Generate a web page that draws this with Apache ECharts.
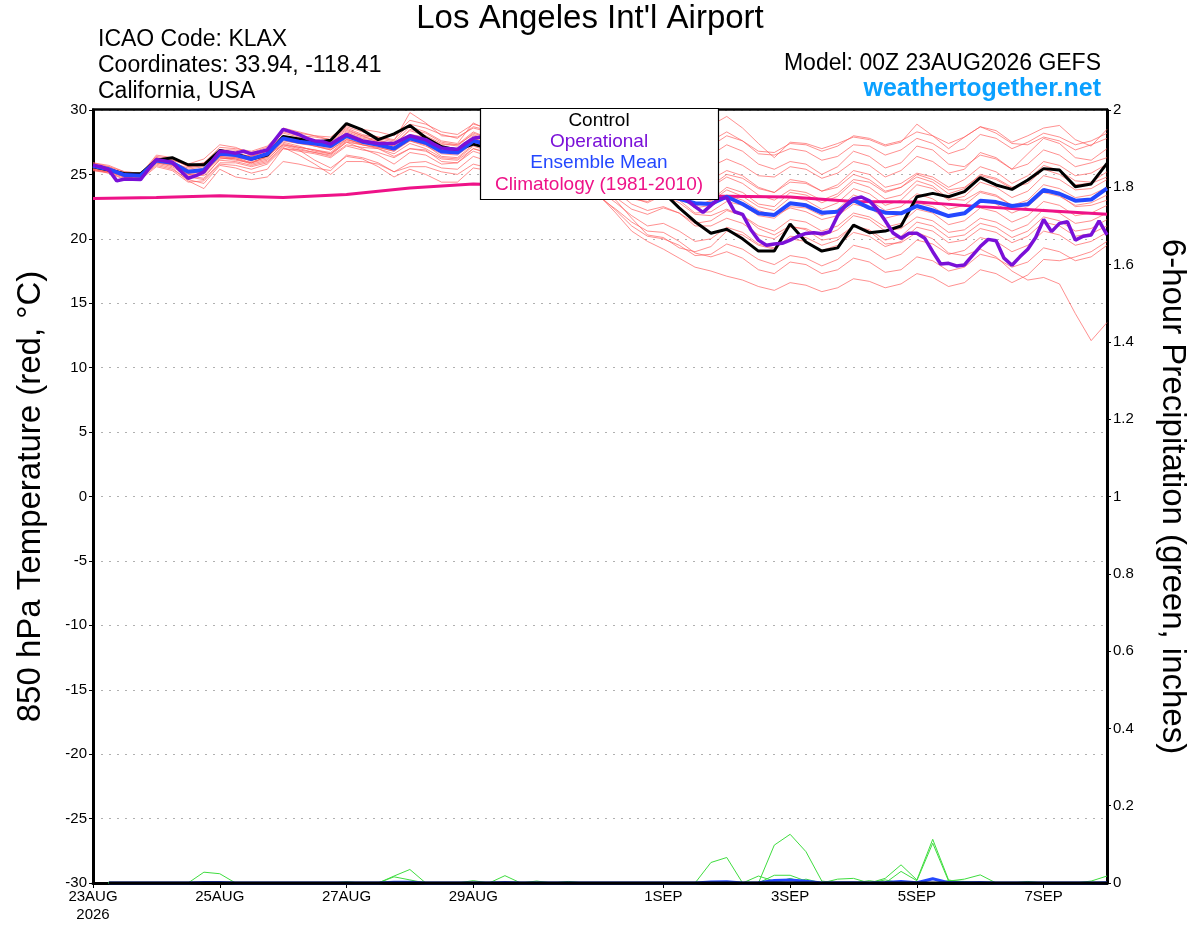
<!DOCTYPE html>
<html><head><meta charset="utf-8">
<script src="https://cdn.jsdelivr.net/npm/echarts@6/dist/echarts.min.js"></script>
<style>html,body{margin:0;padding:0;background:#fff}#c{width:1200px;height:927px}</style>
</head><body><div id="c"></div>
<script>
// ---- tick labels (x axis positions are 3-hour steps from 23AUG2026 00Z) ----
const tickIndex = [0, 16, 32, 48, 72, 88, 104, 120];
const tickLabels = ['23AUG\n2026', '25AUG', '27AUG', '29AUG', '1SEP', '3SEP', '5SEP', '7SEP'];
const nSteps3h = 129;

// ---- 850 hPa temperature (degC), 6-hourly, 65 points ----
const controlTemp = [25.6,25.35,25.05,25.05,26.1,26.3,25.75,25.75,26.85,26.6,26.2,26.5,27.95,27.75,27.5,27.65,28.95,28.45,27.7,28.15,28.8,27.85,27.15,26.9,27.35,
  27.0,26.7,26.4,26.1,25.8,25.5,25.2,24.9,24.6,24.3,24.0,23.6,22.4,21.33,20.43,20.74,20.0,19.05,19.05,21.15,19.75,19.05,19.3,21.07,20.48,20.6,21.0,23.27,23.53,23.27,23.66,24.75,24.18,23.84,24.57,25.45,25.34,24.05,24.26,25.86];
const meanTemp = [25.65,25.4,24.95,24.9,26.07,25.9,25.2,25.35,26.6,26.5,26.2,26.6,27.8,27.54,27.4,27.2,28.0,27.54,27.3,27.0,27.8,27.46,26.77,26.7,27.6,
  27.3,27.0,26.6,26.2,25.9,25.6,25.2,24.8,24.5,24.1,23.8,23.4,23.1,22.76,22.7,23.27,22.7,21.98,21.85,22.76,22.6,22.03,22.1,23.0,22.4,22.03,21.98,22.55,22.2,21.77,21.98,22.96,22.85,22.55,22.68,23.8,23.5,22.96,23.05,23.92];
// operational run, 3-hourly, 129 points
const opTemp = [25.72,25.6,25.35,24.5,24.65,24.62,24.6,25.4,26.15,26.05,25.95,25.3,24.7,24.9,25.2,26.0,26.8,26.75,26.65,26.8,26.6,26.75,26.9,27.7,28.5,
  28.3,28.1,27.8,27.6,27.55,27.35,27.75,28.1,27.85,27.6,27.5,27.4,27.4,27.4,27.7,28.0,27.85,27.7,27.35,27.05,27.0,26.95,27.4,27.8,
  27.9,27.7,27.5,27.3,27.0,26.8,26.6,26.5,26.3,26.1,25.9,25.8,25.6,25.4,25.3,25.1,25.0,24.8,24.7,24.5,24.3,24.1,23.9,23.8,23.6,
  23.3,23.0,22.5,22.05,22.6,23.1,23.2,22.1,21.9,20.75,19.9,19.5,19.6,19.65,19.9,20.2,20.42,20.48,20.4,20.55,21.8,22.6,23.1,23.25,22.95,22.3,
  21.4,20.45,20.04,20.43,20.43,20.04,19.0,18.05,18.1,17.9,17.97,18.7,19.4,19.96,19.85,18.5,17.95,18.6,19.2,20.1,21.5,20.56,21.2,21.33,19.9,20.2,20.3,21.4,20.3];
// climatology 1981-2010, daily at 00Z, 17 points
const climoTemp = [23.14,23.2,23.35,23.2,23.45,23.95,24.25,24.1,23.7,23.3,23.3,23.25,22.9,22.85,22.5,22.2,21.9];

// ensemble members, 6-hourly, 65 points each
const member01 = [25.8,25.5,25.1,25.0,26.4,26.2,25.6,25.9,27.1,27.0,26.8,27.2,28.4,28.2,28.0,27.9,28.8,28.5,28.3,28.0,29.2,28.9,28.3,28.1,28.9,28.6,28.0,27.9,28.5,28.3,27.6,27.5,28.2,28.0,27.4,27.6,28.4,28.6,28.2,28.8,29.5,28.6,27.4,26.3,27.5,27.4,27.0,27.4,27.9,27.7,27.2,27.5,28.9,28.0,27.0,27.9,28.7,28.4,27.5,28.0,28.6,28.8,27.7,27.2,28.5];
const member02 = [25.7,25.6,25.2,25.1,26.3,26.1,25.8,26.2,27.3,27.1,26.6,26.9,28.0,27.8,27.6,27.5,28.4,28.0,27.9,27.6,29.8,29.0,28.0,27.9,28.6,28.3,27.6,27.4,28.0,27.8,27.1,26.9,27.5,27.2,26.5,26.7,27.3,27.4,27.0,27.6,28.3,27.6,26.6,26.5,27.0,26.8,26.1,26.4,27.3,27.2,26.5,26.9,27.8,27.4,26.6,27.0,28.1,27.8,27.0,27.5,28.2,27.9,27.3,27.6,28.2];
const member03 = [25.5,25.3,24.9,24.8,26.0,25.8,24.9,24.7,26.2,26.3,25.9,26.4,27.8,27.6,27.5,27.3,28.2,27.8,27.6,27.4,28.4,28.0,27.4,27.2,28.2,27.8,27.2,27.0,27.6,27.3,26.6,26.4,27.0,26.7,26.0,26.2,26.8,26.6,25.9,26.5,27.3,26.8,25.8,25.4,26.0,25.8,25.0,25.6,26.8,26.4,25.5,25.9,27.2,26.9,25.8,25.6,26.5,26.2,25.4,26.6,27.8,27.4,26.3,26.1,27.0];
const member04 = [25.9,25.6,25.0,24.9,26.1,25.7,25.0,25.0,26.5,26.6,26.4,26.9,28.6,28.3,28.0,27.7,28.6,28.1,27.8,27.5,28.7,28.3,27.6,27.4,29.0,28.4,27.6,27.2,27.8,27.4,26.5,26.0,26.6,26.2,25.3,25.5,26.2,25.8,25.1,25.6,26.2,25.7,24.9,24.8,25.6,25.4,24.7,25.1,26.0,25.7,24.8,25.3,26.4,26.0,25.1,25.4,26.7,26.3,25.4,25.8,26.9,26.5,25.6,25.9,26.3];
const member05 = [25.4,25.2,24.8,24.7,25.9,25.8,25.2,25.5,26.8,26.5,26.0,26.3,27.5,27.2,26.8,26.6,27.6,27.3,27.1,26.8,27.8,27.5,26.9,26.8,27.8,27.4,26.9,26.6,27.2,26.8,26.0,25.8,26.4,26.0,25.1,25.0,25.6,25.2,24.4,24.6,25.3,24.9,24.0,23.6,24.4,24.3,23.7,24.2,25.3,25.0,24.0,24.3,25.1,24.8,24.0,24.6,25.6,25.2,24.3,24.9,26.0,25.7,24.9,25.1,25.8];
const member06 = [25.6,25.4,25.0,24.9,26.2,26.0,25.4,25.6,26.7,26.8,26.7,27.1,28.2,27.9,27.7,27.6,28.5,28.0,27.5,27.2,28.0,27.8,27.1,27.0,28.0,27.6,27.0,26.8,27.3,26.9,26.1,25.7,26.1,25.6,24.8,24.5,25.0,24.7,23.9,24.0,24.8,24.3,23.4,23.0,23.8,23.6,23.0,23.5,24.6,24.4,23.6,24.0,25.0,24.6,23.8,24.0,24.9,24.6,23.9,24.6,25.7,25.3,24.5,24.4,25.2];
const member07 = [25.3,25.1,24.7,24.7,25.7,25.4,24.6,24.3,25.7,25.5,25.1,25.4,27.0,26.8,26.6,26.3,27.2,26.9,26.7,26.3,27.0,26.8,26.2,26.1,27.0,26.7,26.0,25.7,26.3,25.9,25.0,24.6,25.0,24.5,23.6,23.3,24.0,23.5,22.6,22.9,23.8,23.3,22.5,22.2,23.2,23.0,22.3,22.8,23.9,23.5,22.6,23.0,24.2,23.9,23.0,23.3,24.4,24.0,23.2,23.7,24.9,24.6,23.8,23.9,24.6];
const member08 = [25.7,25.5,25.1,25.0,26.3,25.9,25.1,25.2,26.4,26.2,25.8,26.1,27.4,27.1,26.9,26.6,27.5,27.0,26.5,25.8,26.7,26.5,25.8,25.9,26.8,26.4,25.6,25.4,26.0,25.5,24.6,24.2,24.7,24.1,23.2,22.8,23.4,23.0,22.0,22.1,22.9,22.6,21.8,21.6,22.5,22.4,21.8,22.3,23.4,23.0,22.2,22.5,23.5,23.1,22.3,22.6,23.6,23.3,22.6,23.0,24.2,23.9,23.2,23.4,24.0];
const member09 = [25.5,25.3,24.9,24.9,26.0,25.9,25.5,25.7,26.9,26.9,26.5,26.8,27.9,27.7,27.5,27.3,28.3,27.9,27.7,27.3,28.1,27.9,27.3,27.3,28.3,27.8,27.0,26.5,26.8,26.2,25.2,24.7,25.0,24.4,23.5,23.2,23.6,23.2,22.4,22.6,23.4,23.0,22.2,21.8,22.4,22.1,21.5,21.8,22.7,22.4,21.6,21.9,22.8,22.5,21.7,22.0,23.0,22.7,22.0,22.5,23.6,23.3,22.6,22.8,23.4];
const member10 = [25.8,25.5,25.0,24.8,25.9,25.6,24.8,24.6,25.9,25.9,25.6,25.9,27.1,26.5,25.8,25.0,26.0,26.0,25.8,25.2,25.9,26.0,25.5,25.4,26.4,26.0,25.2,24.9,25.4,24.9,24.0,23.5,23.8,23.2,22.3,21.9,22.4,22.0,21.2,21.4,22.2,21.8,21.0,20.6,21.5,21.3,20.6,21.0,22.0,21.7,20.9,21.2,22.3,22.0,21.1,21.4,22.4,22.1,21.3,21.8,22.9,22.6,21.8,22.0,22.6];
const member11 = [25.4,25.2,24.8,24.8,26.1,26.0,25.3,25.1,26.3,26.1,25.9,26.4,27.6,27.4,27.2,27.0,27.9,27.6,27.4,27.1,27.9,27.6,26.9,26.6,27.5,27.0,26.3,25.9,26.3,25.7,24.8,24.2,24.4,23.7,22.7,22.2,22.5,22.0,21.0,21.0,21.6,21.2,20.3,20.0,20.9,20.8,20.2,20.7,21.8,21.5,20.6,20.8,21.7,21.4,20.5,20.7,21.6,21.3,20.6,21.1,22.3,22.0,21.2,21.4,22.0];
const member12 = [25.6,25.3,24.9,24.7,25.8,25.5,24.5,23.9,25.4,24.8,24.6,24.8,26.0,25.8,25.5,25.3,26.5,26.3,25.9,25.2,25.6,25.6,25.2,25.0,25.8,25.5,24.8,24.6,25.2,24.8,24.0,23.7,23.9,23.0,21.6,20.3,20.1,19.3,19.0,19.4,20.6,20.3,19.5,19.2,20.2,20.1,19.5,19.9,21.0,20.7,19.9,20.2,21.3,21.0,20.1,20.3,21.2,20.9,20.1,20.6,21.7,21.4,20.6,20.8,21.5];
const member13 = [25.7,25.4,25.1,25.0,26.5,26.3,25.6,25.7,26.9,26.7,26.3,26.6,27.7,27.4,27.3,27.1,28.1,27.7,27.5,27.2,28.5,28.2,27.5,27.3,28.1,27.6,26.8,26.2,26.4,25.6,24.6,23.9,23.7,22.8,21.8,21.0,21.2,20.6,19.8,20.0,20.9,20.5,19.6,19.3,20.0,19.8,19.1,19.5,20.5,20.2,19.4,19.8,20.9,20.6,19.7,19.9,20.8,20.5,19.7,20.2,21.3,21.0,20.2,20.4,21.0];
const member14 = [25.5,25.3,24.8,24.7,25.9,25.7,25.1,25.3,26.4,26.3,26.1,26.5,27.3,27.0,26.7,26.4,27.3,27.1,27.0,26.6,27.4,27.0,26.3,26.2,27.2,26.8,26.0,25.5,25.6,24.9,24.2,23.6,23.3,22.2,21.0,20.2,20.0,19.5,18.7,18.8,19.6,19.2,18.4,18.0,18.7,18.5,17.9,18.4,19.5,19.2,18.4,18.8,19.9,19.6,18.8,19.1,20.1,19.8,19.0,19.5,20.6,20.3,19.5,19.8,20.5];
const member15 = [25.9,25.7,25.2,25.1,26.2,26.1,25.7,25.9,26.8,26.6,26.4,26.8,28.0,27.6,27.2,26.9,27.8,27.3,27.0,26.4,27.0,26.9,26.0,25.9,27.0,26.6,25.8,25.3,25.2,24.6,24.0,23.5,23.3,22.0,20.6,19.8,19.2,18.5,17.8,17.5,17.1,16.8,16.3,16.0,16.6,16.4,15.9,16.2,16.9,16.7,16.2,16.5,17.3,17.0,16.3,16.6,17.6,17.3,16.6,17.2,18.4,18.3,18.6,19.0,19.8];
const member16 = [25.4,25.1,24.6,24.6,25.6,25.3,24.4,24.5,25.8,25.7,25.4,25.8,27.0,26.9,26.7,26.5,27.5,27.3,27.1,26.8,27.6,27.2,26.6,26.5,27.4,27.0,26.3,25.8,25.9,25.2,24.2,23.4,23.2,22.3,21.3,20.6,20.5,19.8,18.9,18.6,19.0,18.5,17.6,17.3,18.2,18.0,17.3,17.6,18.5,18.2,17.4,17.6,18.6,18.3,17.5,17.8,18.8,18.5,17.8,18.2,19.3,19.0,18.3,18.6,19.5];
const member17 = [25.6,25.4,25.0,24.9,26.1,25.9,25.3,25.4,26.6,26.6,26.4,26.8,28.3,28.0,27.9,27.7,28.7,28.3,27.9,27.7,28.9,28.6,28.1,27.8,28.7,28.4,27.8,27.5,28.0,27.7,27.0,26.8,27.3,27.0,26.3,26.5,27.1,27.0,26.5,27.2,28.0,27.6,26.8,26.7,27.4,27.3,26.8,27.2,28.0,27.8,27.3,27.6,28.3,28.0,27.4,27.9,28.7,28.2,27.4,27.3,27.9,27.6,26.9,27.3,27.8];
const member18 = [25.3,25.2,24.8,24.8,26.0,25.8,25.0,24.9,26.1,26.0,25.7,26.0,27.2,26.9,26.1,25.5,26.4,26.2,25.6,24.8,25.4,25.0,24.4,24.4,25.5,25.3,24.7,24.5,25.1,24.8,24.1,23.8,24.3,23.9,23.1,22.9,23.5,23.2,22.5,23.0,24.0,23.6,22.7,22.5,23.6,23.4,22.8,23.3,24.4,24.0,23.1,23.4,24.5,24.1,23.1,23.0,23.7,23.4,22.6,22.8,23.7,23.4,22.5,22.6,23.0];
const member19 = [25.7,25.5,25.0,24.9,26.2,26.0,25.3,25.2,26.5,26.4,26.2,26.6,27.8,27.5,27.2,26.9,27.7,27.4,27.3,27.0,27.7,27.3,26.4,26.3,27.3,27.0,26.4,26.1,26.7,26.3,25.5,25.2,25.8,25.3,24.5,24.3,24.9,24.5,23.7,24.1,25.0,24.7,23.9,23.6,24.6,24.4,23.7,24.0,25.0,24.6,23.7,24.0,24.8,24.4,23.5,23.9,25.0,24.7,24.0,24.3,25.4,25.0,24.2,24.3,24.8];
const member20 = [25.5,25.3,24.9,24.8,26.0,25.8,25.1,25.1,26.3,26.2,25.9,26.2,27.3,27.1,26.9,26.7,27.7,27.4,27.2,26.9,27.6,27.3,26.8,26.8,27.8,27.4,26.7,26.4,26.9,26.4,25.6,25.0,25.2,24.6,23.6,23.1,23.4,22.8,21.9,21.8,22.3,21.8,20.8,20.3,21.0,20.7,19.9,20.1,21.0,20.6,19.6,19.7,20.5,20.0,18.9,18.7,19.2,18.6,17.5,16.8,17.0,16.5,14.2,12.1,13.5];
const memberTemps = [member01,member02,member03,member04,member05,member06,member07,member08,member09,member10,
  member11,member12,member13,member14,member15,member16,member17,member18,member19,member20];

// ---- 6-hour precipitation (inches), 6-hourly from +6h, 64 points ----
const Z8 = [0,0,0,0,0,0,0,0];
const precip01 = [0,0,0,0,0,0,0.028,0.024, ...Z8, ...Z8, ...Z8, ...Z8, ...Z8, ...Z8, ...Z8];
const precip02 = [...Z8, ...Z8, 0,0,0.018,0.035,0,0,0,0, ...Z8, ...Z8, ...Z8, ...Z8, ...Z8];
const precip03 = [...Z8, ...Z8, 0,0,0.016,0.008,0,0,0,0, ...Z8, ...Z8, 0,0,0,0,0.01,0,0,0, ...Z8, ...Z8];
const precip04 = [...Z8, ...Z8, 0,0,0,0,0,0,0,0.006, 0,0.019,0,0.005,0,0,0,0, ...Z8, ...Z8, ...Z8, ...Z8];
const precip05 = [...Z8, ...Z8, ...Z8, ...Z8, 0,0,0,0,0,0,0.053,0.066, ...Z8, ...Z8, ...Z8];
const precip06 = [...Z8, ...Z8, ...Z8, ...Z8, ...Z8, 0,0.018,0.005,0,0,0,0.01,0.012, 0,0.008,0,0,0,0,0,0, ...Z8];
const precip07 = [...Z8, ...Z8, ...Z8, ...Z8, ...Z8, 0,0,0.098,0.126,0.081,0.005,0,0, ...Z8, ...Z8];
const precip08 = [...Z8, ...Z8, ...Z8, ...Z8, ...Z8, 0,0,0.02,0.02,0.005,0,0,0, ...Z8, ...Z8];
const precip09 = [...Z8, ...Z8, ...Z8, ...Z8, ...Z8, ...Z8, 0,0.012,0.047,0.008,0.113,0.008,0,0, ...Z8];
const precip10 = [...Z8, ...Z8, ...Z8, ...Z8, ...Z8, ...Z8, 0,0,0.03,0.006,0.103,0.005,0.01,0.021, ...Z8];
const precip11 = [...Z8, ...Z8, ...Z8, ...Z8, ...Z8, ...Z8, ...Z8, 0,0,0,0,0,0,0.005,0.018];
const precip12 = [...Z8, ...Z8, ...Z8, ...Z8, ...Z8, 0,0,0,0.012,0,0,0,0, 0.006,0,0,0,0,0,0,0, ...Z8];
const precip13 = [...Z8, ...Z8, ...Z8, 0,0,0,0,0,0.004,0,0, ...Z8, ...Z8, ...Z8, ...Z8];
const precip14 = [...Z8, ...Z8, ...Z8, ...Z8, ...Z8, ...Z8, 0,0,0,0,0,0.006,0.004,0, ...Z8];
const precip15 = [...Z8, ...Z8, ...Z8, ...Z8, ...Z8, ...Z8, ...Z8, 0,0,0.004,0,0,0,0,0];
const precip16 = [...Z8, 0,0,0,0,0,0,0,0.003, ...Z8, ...Z8, ...Z8, ...Z8, ...Z8, ...Z8];
const precip17 = [...Z8, ...Z8, ...Z8, ...Z8, ...Z8, ...Z8, ...Z8, ...Z8];
const precip18 = [...Z8, ...Z8, ...Z8, ...Z8, ...Z8, ...Z8, ...Z8, ...Z8];
const precip19 = [...Z8, ...Z8, ...Z8, ...Z8, ...Z8, ...Z8, ...Z8, ...Z8];
const precip20 = [...Z8, ...Z8, ...Z8, ...Z8, ...Z8, ...Z8, ...Z8, ...Z8];
const memberPrecips = [precip01,precip02,precip03,precip04,precip05,precip06,precip07,precip08,precip09,precip10,
  precip11,precip12,precip13,precip14,precip15,precip16,precip17,precip18,precip19,precip20];
const meanPrecip = [0,0,0,0,0,0,0.0014,0.0012, 0,0,0,0,0,0,0,0.0002, 0,0,0.0017,0.0022,0,0,0,0.0003,
  0,0.001,0,0.0003,0,0.0002,0,0, 0,0,0,0,0,0,0.0027,0.0033, 0,0.0009,0.0062,0.0079,0.0048,0.0003,0.0005,0.0006,
  0.0003,0.001,0.0039,0.0007,0.0108,0.001,0.0007,0.0011, 0,0,0.0002,0,0,0,0.0003,0.0009];
const controlPrecip = [...Z8, ...Z8, ...Z8, ...Z8, ...Z8, ...Z8, ...Z8, ...Z8];

// ---- build ----
const FONT = '"Liberation Sans", Arial, Helvetica, sans-serif';
const categories = [];
(function(){
  const mon = ['JAN','FEB','MAR','APR','MAY','JUN','JUL','AUG','SEP','OCT','NOV','DEC'];
  const t0 = Date.UTC(2026, 7, 23, 0);
  for (let k = 0; k < nSteps3h; k++) {
    const d = new Date(t0 + k * 3 * 3600 * 1000);
    categories.push(String(d.getUTCHours()).padStart(2,'0') + 'Z' + d.getUTCDate() + mon[d.getUTCMonth()]);
  }
})();
const labelMap = {};
tickIndex.forEach((ix, n) => { labelMap[ix] = tickLabels[n]; });
const isTick = (ix) => Object.prototype.hasOwnProperty.call(labelMap, ix);

const six = (arr) => arr.map((v, j) => [2 * j, v]);
const sixFrom1 = (arr) => arr.map((v, j) => [2 * (j + 1), v]);
const lineBase = { type: 'line', showSymbol: false, symbol: 'none', silent: true, animation: false, connectNulls: true };

const series = [];
memberPrecips.forEach((p) => series.push(Object.assign({}, lineBase, {
  yAxisIndex: 1, data: sixFrom1(p), lineStyle: { color: '#3fdc3f', width: 1 }, z: 2 })));
series.push(Object.assign({}, lineBase, { yAxisIndex: 1, data: sixFrom1(meanPrecip), lineStyle: { color: '#2448ff', width: 3 }, z: 3 }));
series.push(Object.assign({}, lineBase, { yAxisIndex: 1, data: sixFrom1(controlPrecip), lineStyle: { color: '#000', width: 3 }, z: 3 }));
memberTemps.forEach((m) => series.push(Object.assign({}, lineBase, {
  yAxisIndex: 0, data: six(m), lineStyle: { color: '#ff5a5a', width: 0.9, opacity: 0.75 }, z: 4 })));
series.push(Object.assign({}, lineBase, { yAxisIndex: 0, data: climoTemp.map((v, d) => [8 * d, v]), lineStyle: { color: '#ee1288', width: 3 }, z: 5 }));
series.push(Object.assign({}, lineBase, { yAxisIndex: 0, data: six(controlTemp), lineStyle: { color: '#000', width: 3 }, z: 6 }));
series.push(Object.assign({}, lineBase, { yAxisIndex: 0, data: six(meanTemp), lineStyle: { color: '#2448ff', width: 4 }, z: 7 }));
series.push(Object.assign({}, lineBase, { yAxisIndex: 0, data: opTemp.map((v, k) => [k, v]), lineStyle: { color: '#7a10d8', width: 3.5 }, z: 8 }));

const txt = (text, x, y, size, color, align, weight) => ({
  type: 'text', z: 200, silent: true,
  style: { text, x, y, font: (weight || 'normal') + ' ' + size + 'px ' + FONT, fill: color, textAlign: align, textVerticalAlign: 'middle' }
});

const chart = echarts.init(document.getElementById('c'), null, { renderer: 'canvas' });
chart.setOption({
  animation: false,
  backgroundColor: '#fff',
  textStyle: { fontFamily: FONT },
  grid: { left: 93, right: 93, top: 110, bottom: 44, show: false },
  xAxis: {
    type: 'category', data: categories, boundaryGap: false,
    axisLine: { show: true, onZero: false, lineStyle: { color: '#000', width: 3 } },
    axisTick: { show: true, interval: (ix) => isTick(ix), length: 5, lineStyle: { color: '#000', width: 1 } },
    axisLabel: { interval: (ix) => isTick(ix), formatter: (val, ix) => labelMap[ix] || '', color: '#000', fontSize: 15, fontFamily: FONT, margin: 5, lineHeight: 18 },
    splitLine: { show: false }
  },
  yAxis: [
    { type: 'value', min: -30, max: 30, interval: 5, position: 'left',
      axisLine: { show: true, lineStyle: { color: '#000', width: 3 } },
      axisTick: { show: true, length: 4, lineStyle: { color: '#000' } },
      axisLabel: { color: '#000', fontSize: 15, fontFamily: FONT, margin: 6 },
      splitLine: { show: true, lineStyle: { color: '#b0b0b0', width: 1, type: [2, 6] } },
      name: '850 hPa Temperature (red, °C)', nameLocation: 'middle', nameGap: 46,
      nameTextStyle: { color: '#000', fontSize: 33, fontFamily: FONT } },
    { type: 'value', min: 0, max: 2, interval: 0.2, position: 'right',
      axisLine: { show: true, lineStyle: { color: '#000', width: 3 } },
      axisTick: { show: true, length: 4, lineStyle: { color: '#000' } },
      axisLabel: { color: '#000', fontSize: 15, fontFamily: FONT, margin: 6 },
      splitLine: { show: false },
      name: '6-hour Precipitation (green, inches)', nameLocation: 'middle', nameGap: 49, nameRotate: -90,
      nameTextStyle: { color: '#000', fontSize: 33, fontFamily: FONT } }
  ],
  graphic: [
    { type: 'line', z: 120, silent: true, shape: { x1: 92, y1: 109.5, x2: 1108, y2: 109.5 }, style: { stroke: '#000', lineWidth: 2.5 } },
    txt("Los Angeles Int'l Airport", 590, 19, 33, '#000', 'center'),
    txt('ICAO Code: KLAX', 98, 40, 23, '#000', 'left'),
    txt('Coordinates: 33.94, -118.41', 98, 66, 23, '#000', 'left'),
    txt('California, USA', 98, 92, 23, '#000', 'left'),
    txt('Model: 00Z 23AUG2026 GEFS', 1101, 64, 23, '#000', 'right'),
    txt('weathertogether.net', 1101, 89, 25, '#0aa0ff', 'right', 'bold'),
    { type: 'rect', z: 150, silent: true, shape: { x: 480.5, y: 108.5, width: 238, height: 91 },
      style: { fill: '#fff', stroke: '#000', lineWidth: 1.2 } },
    txt('Control', 599, 121, 19, '#000', 'center'),
    txt('Operational', 599, 142, 19, '#7a10d8', 'center'),
    txt('Ensemble Mean', 599, 163, 19, '#2448ff', 'center'),
    txt('Climatology (1981-2010)', 599, 185, 19, '#ee1288', 'center')
  ],
  series
});
</script></body></html>
